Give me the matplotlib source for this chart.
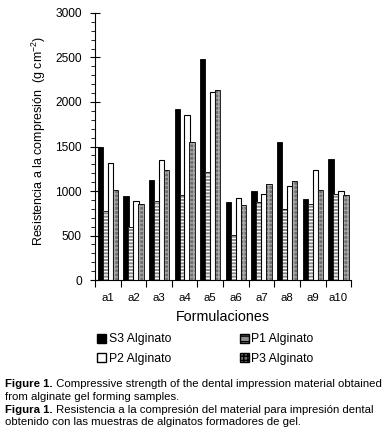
import numpy as np
import matplotlib
matplotlib.use('Agg')
from matplotlib import pyplot as plt
from matplotlib.patches import Patch

plt.rcParams['font.family'] = ['Liberation Sans', 'DejaVu Sans']
plt.rcParams['hatch.linewidth'] = 1.0

formulaciones = ['a1', 'a2', 'a3', 'a4', 'a5', 'a6', 'a7', 'a8', 'a9', 'a10']
s3 = [1495, 945, 1125, 1925, 2480, 880, 1000, 1555, 912, 1365]
p1 = [778, 598, 890, 958, 1212, 508, 876, 800, 857, 970]
p2 = [1315, 890, 1352, 1855, 2108, 922, 970, 1060, 1240, 1002]
p3 = [1012, 855, 1240, 1555, 2130, 846, 1082, 1115, 1015, 958]

x = np.arange(len(formulaciones))
w = 0.21
step = 0.195

fig = plt.figure(figsize=(3.88, 4.46), dpi=100)
ax = fig.add_axes([0.245, 0.372, 0.66, 0.599])

# S3 solid black
ax.bar(x - 1.5 * step, s3, w, color='black', edgecolor='black', linewidth=0.6, zorder=2)
# P1 gray with white horizontal stripes
ax.bar(x - 0.5 * step, p1, w, color='#8c8c8c', edgecolor='white', hatch='-----', linewidth=0, zorder=2)
ax.bar(x - 0.5 * step, p1, w, fill=False, edgecolor='black', linewidth=0.6, zorder=3)
# P2 white
ax.bar(x + 0.5 * step, p2, w, color='white', edgecolor='black', linewidth=0.8, zorder=4)
# P3 gray dotted
ax.bar(x + 1.5 * step, p3, w, color='#6e6e6e', edgecolor='#a8a8a8', hatch='++++', linewidth=0, zorder=5)
ax.bar(x + 1.5 * step, p3, w, fill=False, edgecolor='black', linewidth=0.6, zorder=6)

ax.set_xlim(-0.5, len(x) - 0.5)
ax.set_ylim(0, 3000)
ax.set_yticks(np.arange(0, 3001, 500))
ax.set_yticks(np.arange(0, 3001, 100), minor=True)
ax.tick_params(axis='y', which='major', direction='inout', length=7, width=0.8, labelsize=8.6, pad=6)
ax.tick_params(axis='y', which='minor', direction='out', length=3, width=0.6)

ax.set_xticks(np.arange(-0.5, len(x)), minor=False)
ax.set_xticklabels([])
ax.set_xticks(x, minor=True)
ax.set_xticklabels(formulaciones, minor=True)
ax.tick_params(axis='x', which='major', direction='out', length=5, width=0.8)
ax.tick_params(axis='x', which='minor', length=0, labelsize=8.2, pad=9)

for s in ['top', 'right']:
    ax.spines[s].set_visible(False)
ax.spines['left'].set_linewidth(0.8)
ax.spines['bottom'].set_linewidth(0.8)

ax.set_xlabel('Formulaciones', fontsize=10.3, labelpad=5)
ax.set_ylabel('Resistencia a la compresión  (g cm$\\mathregular{^{-2}}$)', fontsize=9)
ax.yaxis.set_label_coords(-0.185, 0.52)

handles = [
    Patch(facecolor='black', edgecolor='black', label='S3 Alginato'),
    Patch(facecolor='white', edgecolor='black', label='P2 Alginato'),
    Patch(facecolor='#8c8c8c', edgecolor='black', hatch='---', label='P1 Alginato'),
    Patch(facecolor='#6e6e6e', edgecolor='black', hatch='++++', label='P3 Alginato'),
]
fig.legend(handles=handles, ncol=2, loc='upper left', bbox_to_anchor=(0.235, 0.266),
           frameon=False, fontsize=8.8, handlelength=0.75, handleheight=0.75,
           handletextpad=0.2, columnspacing=5.6, labelspacing=0.6, borderpad=0)

# caption
cap = [
    ('Figure 1.', ' Compressive strength of the dental impression material obtained', 0.132),
    (None, 'from alginate gel forming samples.', 0.104),
    ('Figura 1.', ' Resistencia a la compresión del material para impresión dental', 0.074),
    (None, 'obtenido con las muestras de alginatos formadores de gel.', 0.046),
]
for bold, rest, yy in cap:
    if bold:
        t = fig.text(0.013, yy, bold, fontsize=8.2, fontweight='bold', va='baseline')
        ax.annotate(rest, xy=(1, 0), xycoords=t, fontsize=8.2, va='bottom',
                    annotation_clip=False)
    else:
        fig.text(0.013, yy, rest, fontsize=8.2, va='baseline')

fig.savefig('out.png', dpi=100)
